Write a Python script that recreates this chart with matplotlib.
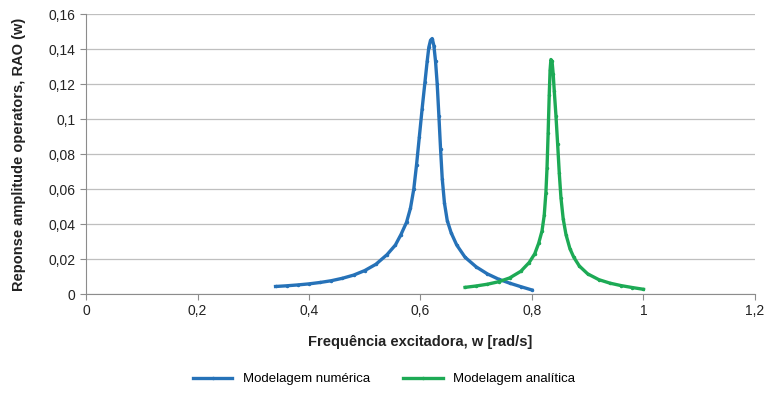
import matplotlib.pyplot as plt
from matplotlib.ticker import FuncFormatter

plt.rcParams['font.family'] = ['Liberation Sans', 'DejaVu Sans']

# numerical model (w in rad/s, RAO)
w_num = [0.34, 0.36, 0.38, 0.40, 0.42, 0.44, 0.46, 0.48, 0.50, 0.52, 0.54, 0.555,
         0.565, 0.575, 0.582, 0.588, 0.593, 0.598, 0.603, 0.608, 0.612, 0.615,
         0.618, 0.621, 0.624, 0.627, 0.630, 0.633, 0.636, 0.639, 0.643, 0.648,
         0.655, 0.665, 0.68, 0.70, 0.72, 0.74, 0.76, 0.78, 0.80]
rao_num = [0.0043, 0.0047, 0.0052, 0.0058, 0.0066, 0.0076, 0.0090, 0.0108, 0.0134,
           0.0170, 0.0225, 0.028, 0.034, 0.041, 0.049, 0.060, 0.074, 0.090, 0.106,
           0.121, 0.133, 0.141, 0.145, 0.146, 0.142, 0.133, 0.120, 0.102, 0.083,
           0.066, 0.052, 0.042, 0.035, 0.028, 0.021, 0.0155, 0.0115, 0.0085,
           0.0062, 0.0042, 0.0023]

# analytical model
w_ana = [0.68, 0.70, 0.72, 0.74, 0.76, 0.78, 0.795, 0.805, 0.812, 0.818, 0.822,
         0.825, 0.827, 0.829, 0.831, 0.8325, 0.834, 0.836, 0.838, 0.840, 0.843,
         0.846, 0.849, 0.852, 0.856, 0.861, 0.868, 0.875, 0.885, 0.90, 0.92, 0.94,
         0.96, 0.98, 1.00]
rao_ana = [0.0038, 0.0046, 0.0056, 0.0070, 0.0092, 0.0130, 0.018, 0.023, 0.029,
           0.036, 0.045, 0.058, 0.072, 0.092, 0.114, 0.128, 0.134, 0.133, 0.126,
           0.116, 0.102, 0.086, 0.069, 0.055, 0.043, 0.034, 0.026, 0.021, 0.016,
           0.0115, 0.0082, 0.0062, 0.0048, 0.0037, 0.0027]

x_ticks = [0, 0.2, 0.4, 0.6, 0.8, 1.0, 1.2]
y_ticks = [0, 0.02, 0.04, 0.06, 0.08, 0.10, 0.12, 0.14, 0.16]


def comma(v, pos):
    s = ('%.2f' % v).rstrip('0').rstrip('.')
    return s.replace('.', ',')


fig = plt.figure(figsize=(7.68, 3.97), dpi=100)
ax = fig.add_axes([0.112, 0.2594, 0.871, 0.7053])

ax.plot(w_num, rao_num, color='#2672B8', lw=2.4, marker='o', ms=1.5,
        label='Modelagem numérica')
ax.plot(w_ana, rao_ana, color='#1DAA55', lw=2.4, marker='o', ms=1.5,
        label='Modelagem analítica')

ax.set_xlim(0, 1.2)
ax.set_ylim(0, 0.16)
ax.set_xticks(x_ticks)
ax.set_yticks(y_ticks)
ax.xaxis.set_major_formatter(FuncFormatter(comma))
ax.yaxis.set_major_formatter(FuncFormatter(comma))
ax.grid(axis='y', color='#BFBFBF', lw=0.9)
ax.set_axisbelow(True)

for side in ['top', 'right']:
    ax.spines[side].set_visible(False)
for side in ['left', 'bottom']:
    ax.spines[side].set_color('#8C8C8C')
ax.tick_params(colors='#8C8C8C', labelcolor='#222222', labelsize=10,
               length=4, direction='out')

ax.set_xlabel('Frequência excitadora, w [rad/s]', fontsize=10.5, fontweight='bold',
              color='#222222', labelpad=12)
ax.set_ylabel('Reponse amplitude operators, RAO (w)', fontsize=10.5, fontweight='bold',
              color='#222222', labelpad=16)

fig.legend(loc='center', bbox_to_anchor=(0.5, 0.045), ncol=2, frameon=False,
           fontsize=9.5, handlelength=3, columnspacing=2.5)

fig.savefig('out.png', dpi=100)
